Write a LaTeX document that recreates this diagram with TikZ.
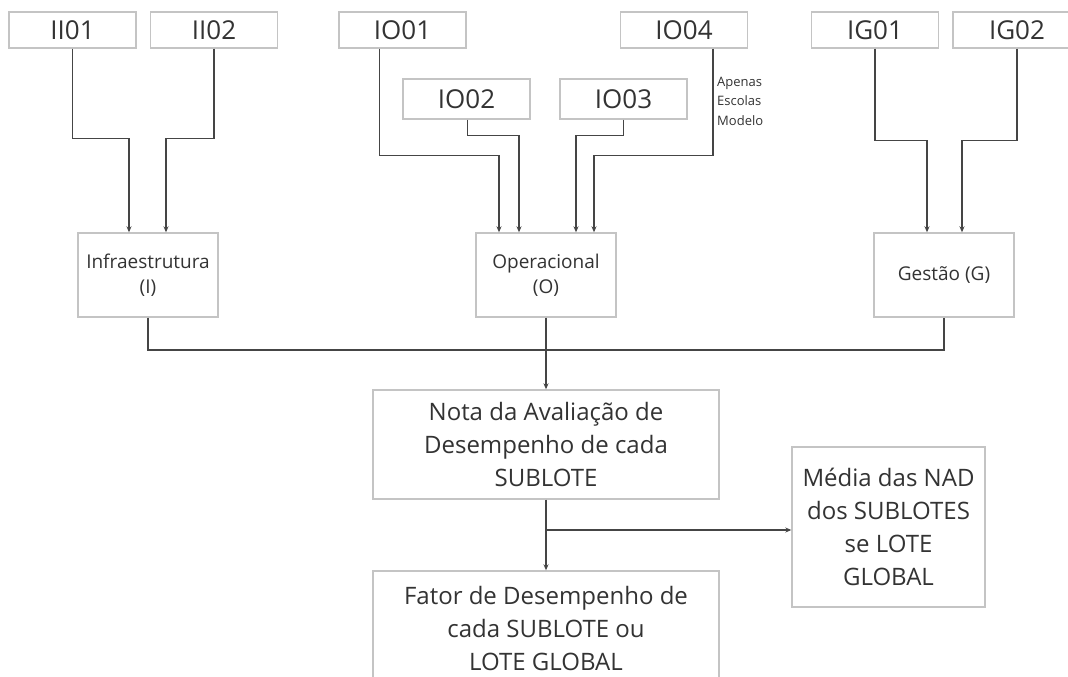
\documentclass[tikz,border=0pt]{standalone}
\usepackage{fontspec}
\setmainfont{Open Sans}
\usetikzlibrary{arrows.meta}
\definecolor{boxgray}{HTML}{C4C4C4}
\definecolor{linegray}{HTML}{454545}
\definecolor{txt}{HTML}{333333}

\begin{document}
\begin{tikzpicture}[x=1pt,y=-1pt,
  code/.style={draw=boxgray, line width=1.4pt, text=txt, minimum width=127pt, minimum height=36pt, inner sep=0pt, font=\fontsize{26}{30}\selectfont},
  group/.style={draw=boxgray, line width=1.4pt, text=txt, minimum width=140pt, minimum height=84pt, align=center, font=\fontsize{19}{25}\selectfont},
  result/.style={draw=boxgray, line width=1.4pt, text=txt, minimum width=346pt, align=center, font=\fontsize{24}{33}\selectfont},
  line/.style={draw=linegray, line width=1.3pt},
  arr/.style={line, -{Stealth[length=6pt,width=5pt]}}]
\useasboundingbox[fill=white] (0,0) rectangle (1068,677);

% indicators
\node[code] (ii01) at (72.5,30) {II01};
\node[code] (ii02) at (214,30) {II02};
\node[code] (io01) at (402.5,30) {IO01};
\node[code] (io04) at (684,30) {IO04};
\node[code, minimum height=40pt] (io02) at (466.5,99) {IO02};
\node[code, minimum height=40pt] (io03) at (623.5,99) {IO03};
\node[code] (ig01) at (875,30) {IG01};
\node[code, minimum width=128pt] (ig02) at (1017,30) {IG02};
\node[anchor=west, text=txt, align=left, inner sep=0pt, font=\fontsize{13}{19.5}\selectfont] (nota04) at (717,101) {Apenas\\Escolas\\Modelo};

% groups
\node[group] (infra) at (148,275) {Infraestrutura\\(I)};
\node[group] (oper) at (546,275) {Operacional\\(O)};
\node[group] (gestao) at (944,275) {Gestão (G)};

% results
\node[result, minimum height=109pt] (nad) at (546,444.5) {Nota da Avaliação de\\Desempenho de cada\\SUBLOTE};
\node[result, minimum height=115pt] (fator) at (546,628.5) {Fator de Desempenho de\\cada SUBLOTE ou\\LOTE GLOBAL};
\node[result, minimum width=193pt, minimum height=160pt] (media) at (888.5,527) {Média das NAD\\dos SUBLOTES\\se LOTE\\GLOBAL};

\coordinate (bus) at (546,350);
\coordinate (split) at (546,530);

\draw[arr] (ii01.south) -- ++(0,90) -| ([xshift=-19pt]infra.north);
\draw[arr] (ii02.south) -- ++(0,90) -| ([xshift=18pt]infra.north);
\draw[arr] ([xshift=-23pt]io01.south) -- ++(0,107) -| ([xshift=-47pt]oper.north);
\draw[arr] ([xshift=1pt]io02.south) -- ++(0,16) -| ([xshift=-27pt]oper.north);
\draw[arr] (io03.south) -- ++(0,16) -| ([xshift=30pt]oper.north);
\draw[arr] ([xshift=29pt]io04.south) -- ++(0,107) -| ([xshift=48pt]oper.north);
\draw[arr] (ig01.south) -- ++(0,92) -| ([xshift=-17pt]gestao.north);
\draw[arr] (ig02.south) -- ++(0,92) -| ([xshift=18pt]gestao.north);

\draw[line] (infra.south) |- (bus) -| (gestao.south);
\draw[arr] (oper.south) -- (nad.north);
\draw[arr] (nad.south) -- (fator.north);
\draw[arr] (split) -- (split -| media.west);
\end{tikzpicture}
\end{document}
